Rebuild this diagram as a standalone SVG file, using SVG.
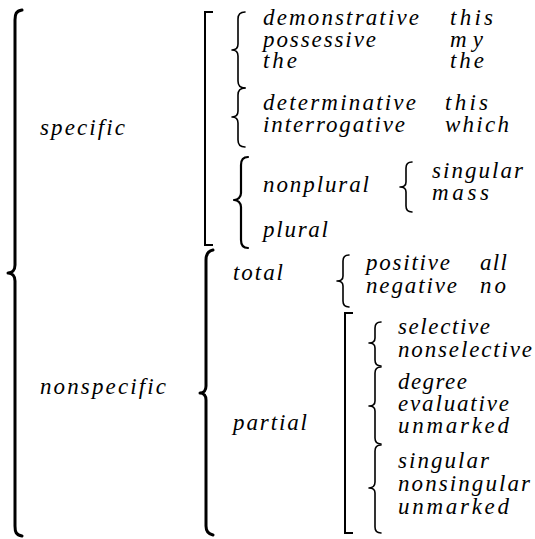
<svg xmlns="http://www.w3.org/2000/svg" width="535" height="539" viewBox="0 0 535 539">
  <style>
    .lbl text { font-family: "Liberation Serif", "DejaVu Serif", serif; font-style: italic; font-size: 23px; fill: #000; }
    .br { fill: none; stroke: #000; stroke-linecap: round; stroke-linejoin: round; }
    .big { stroke-width: 3; }
    .mid { stroke-width: 2.2; }
    .sm { stroke-width: 1.6; }
    .sq { fill: none; stroke: #000; stroke-width: 2; stroke-linecap: square; }
  </style>

  <!-- braces and brackets of the system network -->
  <g id="connectors">
    <!-- determiner: specific / nonspecific -->
    <path class="br big" d="M22 10 C16 11 15 14 15 20 L15 265 C15 270 12 273 8 273 C12 273 15 276 15 281 L15 526 C15 532 16 535 22 536"/>
    <!-- specific: bracket of simultaneous systems -->
    <path class="sq" d="M212 12 L205 12 L205 245 L212 245"/>
    <path class="br sm" d="M245 12 C240 12 238 15 238 19 L238 44 C238 48 236 50 232 50 C236 50 238 52 238 56 L238 81 C238 85 240 88 245 88"/>
    <path class="br sm" d="M245 88 C240 88 238 91 238 95 L238 111 C238 115 236 117 232 117 C236 117 238 119 238 123 L238 140 C238 144 240 147 245 147"/>
    <path class="br mid" d="M248 157 C243 157 241 160 241 165 L241 193 C241 197 238 200 234 200 C238 200 241 203 241 207 L241 240 C241 245 243 248 248 248"/>
    <path class="br sm" d="M412 162 C408 162 406 164 406 168 L406 182 C406 185 404 187 400 187 C404 187 406 189 406 192 L406 206 C406 210 408 212 412 212"/>
    <!-- nonspecific: total / partial -->
    <path class="br big" d="M213 250 C208 251 206 254 206 260 L206 386 C206 390 204 393 200 393 C204 393 206 396 206 400 L206 526 C206 531 208 534 213 535"/>
    <path class="br sm" d="M349 255 C345 255 343 257 343 261 L343 276 C343 279 341 281 337 281 C341 281 343 283 343 286 L343 301 C343 305 345 307 349 307"/>
    <!-- partial: bracket of simultaneous systems -->
    <path class="sq" d="M352 313 L345 313 L345 533 L352 533"/>
    <path class="br sm" d="M381 322 C377 322 375 324 375 328 L375 338 C375 341 373 343 369 343 C373 343 375 345 375 348 L375 360 C375 364 377 366 381 366"/>
    <path class="br sm" d="M381 367 C377 367 375 369 375 373 L375 401 C375 404 373 406 369 406 C373 406 375 408 375 411 L375 438 C375 442 377 444 381 444"/>
    <path class="br sm" d="M381 445 C377 445 375 447 375 451 L375 482 C375 485 373 488 369 488 C373 488 375 490 375 493 L375 527 C375 531 377 533 381 533"/>
  </g>

  <g class="lbl" font-family="Liberation Serif, serif" font-style="italic">
    <!-- top level features -->
    <g id="specific"><text x="40" y="135" textLength="85" lengthAdjust="spacing">specific</text></g>
    <g id="nonspecific"><text x="40" y="394" textLength="126" lengthAdjust="spacing">nonspecific</text></g>

    <!-- specific subsystems -->
    <g id="demonstrative"><text x="263" y="25" textLength="156" lengthAdjust="spacing">demonstrative</text></g>
    <g id="possessive"><text x="263" y="47" textLength="113" lengthAdjust="spacing">possessive</text></g>
    <g id="the"><text x="263" y="68" textLength="34" lengthAdjust="spacing">the</text></g>
    <g id="ex-this-1"><text x="450" y="25" textLength="43" lengthAdjust="spacing">this</text></g>
    <g id="ex-my"><text x="450" y="47" textLength="33" lengthAdjust="spacing">my</text></g>
    <g id="ex-the"><text x="450" y="68" textLength="34" lengthAdjust="spacing">the</text></g>
    <g id="determinative"><text x="263" y="110" textLength="153" lengthAdjust="spacing">determinative</text></g>
    <g id="interrogative"><text x="263" y="132" textLength="142" lengthAdjust="spacing">interrogative</text></g>
    <g id="ex-this-2"><text x="445" y="110" textLength="43" lengthAdjust="spacing">this</text></g>
    <g id="ex-which"><text x="445" y="132" textLength="64" lengthAdjust="spacing">which</text></g>
    <g id="nonplural"><text x="263" y="192" textLength="106" lengthAdjust="spacing">nonplural</text></g>
    <g id="singular-1"><text x="432" y="178" textLength="91" lengthAdjust="spacing">singular</text></g>
    <g id="mass"><text x="432" y="200" textLength="57" lengthAdjust="spacing">mass</text></g>
    <g id="plural"><text x="263" y="237" textLength="65" lengthAdjust="spacing">plural</text></g>

    <!-- nonspecific subsystems -->
    <g id="total"><text x="233" y="280" textLength="50" lengthAdjust="spacing">total</text></g>
    <g id="positive"><text x="366" y="270" textLength="84" lengthAdjust="spacing">positive</text></g>
    <g id="negative"><text x="366" y="293" textLength="91" lengthAdjust="spacing">negative</text></g>
    <g id="ex-all"><text x="480" y="270" textLength="27" lengthAdjust="spacing">all</text></g>
    <g id="ex-no"><text x="480" y="293" textLength="26" lengthAdjust="spacing">no</text></g>
    <g id="partial"><text x="233" y="430" textLength="74" lengthAdjust="spacing">partial</text></g>
    <g id="selective"><text x="398" y="334" textLength="92" lengthAdjust="spacing">selective</text></g>
    <g id="nonselective"><text x="398" y="357" textLength="134" lengthAdjust="spacing">nonselective</text></g>
    <g id="degree"><text x="398" y="389" textLength="69" lengthAdjust="spacing">degree</text></g>
    <g id="evaluative"><text x="398" y="411" textLength="111" lengthAdjust="spacing">evaluative</text></g>
    <g id="unmarked-1"><text x="398" y="433" textLength="111" lengthAdjust="spacing">unmarked</text></g>
    <g id="singular-2"><text x="398" y="468" textLength="91" lengthAdjust="spacing">singular</text></g>
    <g id="nonsingular"><text x="398" y="491" textLength="132" lengthAdjust="spacing">nonsingular</text></g>
    <g id="unmarked-2"><text x="398" y="514" textLength="111" lengthAdjust="spacing">unmarked</text></g>
  </g>
</svg>
